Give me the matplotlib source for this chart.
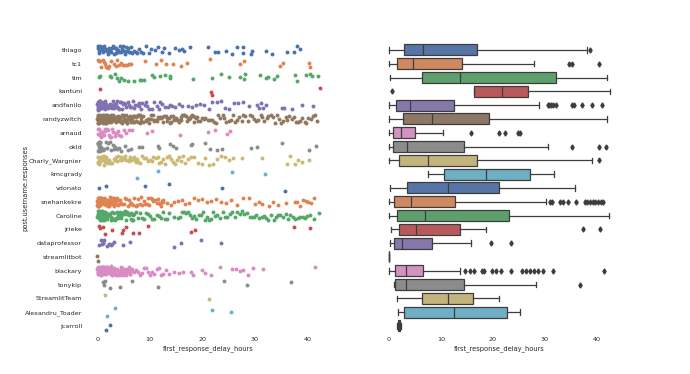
import numpy as np
import matplotlib
matplotlib.use("Agg")
import matplotlib.pyplot as plt
import matplotlib.colors as mcolors
import colorsys

users = ["thiago", "tc1", "tim", "kantuni", "andfanilo", "randyzwitch", "arnaud", "okld",
         "Charly_Wargnier", "kmcgrady", "vdonato", "snehankekre", "Caroline", "jrieke",
         "dataprofessor", "streamlitbot", "blackary", "tonykip", "StreamlitTeam",
         "Alexandru_Toader", "jcarroll"]

thiago = [0.1, 0.2, 0.3, 0.3, 0.5, 0.6, 0.8, 0.9, 1.0, 1.2, 1.3, 1.5, 1.6, 1.8, 2.0, 2.1, 2.3, 2.5, 2.6, 2.8,
          3.0, 3.1, 3.3, 3.5, 3.6, 3.8, 4.0, 4.2, 4.3, 4.5, 4.7, 4.9, 5.0, 5.2, 5.4, 5.6, 5.8, 6.0, 6.2, 6.4,
          6.7, 7.0, 7.3, 7.6, 8.0, 8.3, 8.7, 9.3, 9.8, 10.3, 11.0, 11.5, 12.3, 12.8, 13.6, 14.8, 15.5, 16.2, 16.6,
          17.7, 21.0, 22.4, 23.0, 24.6, 25.6, 26.6, 27.7, 27.8, 29.3, 29.4, 32.1, 33.3, 36.1, 37.5, 38.1, 38.7]
tc1 = [0.1, 0.3, 0.5, 0.8, 1.0, 1.2, 1.4, 1.7, 2.0, 2.3, 2.6, 3.2, 3.5, 3.8, 4.2, 4.6, 4.9, 5.2, 5.6, 6.0,
       6.4, 9.1, 11.2, 12.2, 13.1, 14.4, 15.9, 17.0, 21.4, 27.2, 28.0, 34.9, 35.3, 40.4, 40.6]
tim = [0.3, 0.5, 2.4, 2.7, 3.3, 3.7, 4.2, 4.6, 5.0, 5.9, 7.0, 8.2, 8.4, 8.9, 10.4, 10.9, 12.0, 12.9, 13.8,
       13.9, 18.2, 21.8, 23.5, 25.0, 27.2, 28.0, 28.2, 31.0, 32.1, 32.6, 33.6, 34.2, 37.6, 38.1, 39.7, 40.6,
       40.9, 42.1]
kantuni = [0.6, 21.7, 21.8, 42.4]
andfanilo = [0.03, 0.07, 0.1, 0.14, 0.16, 0.21, 0.24, 0.29, 0.31, 0.36, 0.4, 0.42, 0.47, 0.52, 0.55, 0.61,
             0.63, 0.68, 0.73, 0.77, 0.8, 0.86, 0.9, 0.95, 0.99, 1.03, 1.08, 1.13, 1.19, 1.24,
             1.35, 1.42, 1.5, 1.56, 1.63, 1.71, 1.78, 1.86, 1.95, 2.02, 2.1, 2.19, 2.27, 2.36, 2.44, 2.53,
             2.61, 2.72, 2.8, 2.91, 3.0, 3.12, 3.21, 3.33, 3.45, 3.56, 3.68, 3.79, 3.9, 4.02,
             4.2, 4.4, 4.5, 4.7, 4.9, 5.0, 5.2, 5.5, 5.8, 6.1, 6.3, 6.5, 6.8, 7.0, 7.2, 7.5, 7.9, 8.0, 8.3,
             8.6, 9.1, 9.3, 9.5, 9.9, 10.4, 10.8, 11.3, 11.7, 12.0, 12.4,
             12.9, 13.4, 13.8, 14.3, 14.9, 15.6, 16.2, 17.3, 18.1, 18.9, 19.6, 20.4, 21.2, 21.9, 22.8, 23.5,
             24.4, 25.1, 26.0, 26.9, 27.7, 28.9,
             30.5, 30.8, 31.2, 31.6, 32.1, 35.1, 35.5, 37.1, 39.0, 41.0]
randyzwitch = [0.02, 0.05, 0.07, 0.11, 0.13, 0.16, 0.2, 0.22, 0.25, 0.29, 0.33, 0.36, 0.38, 0.43, 0.47, 0.5,
               0.52, 0.57, 0.61, 0.64, 0.69, 0.72, 0.76, 0.81, 0.85, 0.88, 0.93, 0.98, 1.02, 1.07, 1.11, 1.16,
               1.2, 1.26, 1.31, 1.35, 1.41, 1.46, 1.52, 1.57, 1.63, 1.68, 1.74, 1.8, 1.86, 1.92, 1.98, 2.05,
               2.11, 2.18, 2.25, 2.33, 2.41, 2.52, 2.63,
               2.74, 2.82, 2.9, 2.97, 3.06, 3.15, 3.22, 3.31, 3.4, 3.48, 3.57, 3.66, 3.75, 3.85, 3.94, 4.03,
               4.13, 4.22, 4.33, 4.42, 4.53, 4.63, 4.74, 4.84, 4.95, 5.05, 5.16, 5.27, 5.38, 5.49, 5.6, 5.71,
               5.82, 5.94, 6.05, 6.16, 6.28, 6.39, 6.51, 6.62, 6.74, 6.86, 6.98, 7.09, 7.21, 7.33, 7.45, 7.57,
               7.69, 7.81, 7.93, 8.05, 8.15,
               8.3, 8.4, 8.7, 8.8, 9.2, 9.3, 9.6, 9.8, 9.9, 10.2, 10.3, 10.6, 10.8, 10.9, 11.2, 11.4, 11.5,
               11.8, 12.0, 12.1, 12.4, 12.6, 12.7, 13.0, 13.2, 13.3, 13.6, 13.8, 14.0, 14.1, 14.4, 14.6, 14.7,
               15.0, 15.2, 15.3, 15.6, 15.9, 16.0, 16.2, 16.5, 16.6, 16.9, 17.1, 17.2, 17.5, 17.7, 17.8, 18.1,
               18.3, 18.4, 18.7, 18.9, 19.0, 19.2,
               19.5, 19.9, 20.3, 20.6, 21.0, 21.5, 21.8, 22.2, 22.7, 23.0, 23.4, 23.9, 24.2, 24.6, 25.1, 25.4,
               25.8, 26.3, 26.6, 27.0, 27.5, 27.8, 28.2, 28.7, 29.0, 29.4, 29.9, 30.2, 30.6, 31.1, 31.4, 31.8,
               32.3, 32.6, 33.0, 33.5, 33.8, 34.2, 34.7, 35.0, 35.4, 35.9, 36.2, 36.6, 37.1, 37.4, 37.8, 38.3,
               38.6, 39.0, 39.5, 39.8, 40.2, 40.7, 41.1, 41.5, 41.9]
arnaud = [0.1, 0.2, 0.35, 0.4, 0.5, 0.65, 0.7, 0.85, 0.9, 1.05, 1.2, 1.4, 1.55, 1.8, 2.0, 2.25, 2.4, 2.6,
          2.85, 3.0, 3.3, 3.65, 3.9, 4.2, 4.6, 5.0, 5.4, 6.1, 6.7, 9.5, 10.4, 15.7, 21.1, 22.4, 24.8, 25.2]
okld = [0.05, 0.1, 0.15, 0.2, 0.25, 0.3, 0.4, 0.45, 0.5, 0.6, 0.65, 0.8, 1.0, 1.3, 1.6, 1.8, 2.1, 2.4, 2.7,
        3.0, 3.2, 3.4, 3.7, 4.1, 4.6, 5.2, 5.9, 6.4, 8.0, 8.6, 11.5, 11.8, 13.8, 14.4, 15.0, 17.8, 18.0,
        20.5, 21.4, 22.9, 23.8, 29.3, 30.5, 35.1, 40.4, 41.7]
charly = [0.05, 0.1, 0.15, 0.2, 0.3, 0.35, 0.4, 0.5, 0.55, 0.6, 0.7, 0.8, 0.85, 0.9, 1.0, 1.1, 1.2, 1.25,
          1.3, 1.4, 1.5, 1.6, 1.7, 1.8, 1.9,
          2.1, 2.3, 2.5, 2.7, 2.9, 3.1, 3.3, 3.5, 3.8, 4.0, 4.3, 4.5, 4.8, 5.0, 5.3, 5.5, 5.8, 6.0, 6.3,
          6.5, 6.8, 7.0, 7.2, 7.4, 7.5,
          7.8, 8.2, 8.5, 8.9, 9.3, 9.6, 10.0, 10.4, 10.7, 11.1, 11.5, 11.8, 12.2, 12.6, 12.9, 13.3, 13.7,
          14.0, 14.4, 14.8, 15.1, 15.5, 15.9, 16.3, 16.7,
          17.2, 17.8, 18.5, 19.1, 19.9, 20.6, 21.3, 22.0, 22.8, 23.5, 24.3, 25.1, 25.8, 27.5, 31.3, 36.1,
          36.8, 37.6, 38.2, 39.0, 40.4]
kmcgrady = [7.6, 11.6, 25.7, 31.9]
vdonato = [0.3, 1.6, 9.1, 13.6, 23.8, 35.8]
snehankekre = [0.02, 0.04, 0.07, 0.09, 0.12, 0.14, 0.17, 0.19, 0.22, 0.25, 0.27, 0.3, 0.33, 0.35, 0.38,
               0.41, 0.44, 0.47, 0.5, 0.53, 0.56, 0.59, 0.62, 0.65, 0.68, 0.71, 0.74, 0.77, 0.8, 0.83, 0.86,
               0.89, 0.92, 0.95, 0.98,
               1.04, 1.12, 1.19, 1.27, 1.35, 1.43, 1.52, 1.6, 1.69, 1.78, 1.86, 1.95, 2.04, 2.13, 2.22, 2.31,
               2.4, 2.5, 2.59, 2.69, 2.78, 2.88, 2.97, 3.07, 3.16, 3.26, 3.35, 3.45, 3.55, 3.64, 3.74, 3.84,
               3.94, 4.04, 4.14,
               4.3, 4.5, 4.8, 5.0, 5.3, 5.5, 5.8, 6.0, 6.3, 6.5, 6.8, 7.0, 7.3, 7.6, 7.8, 8.1, 8.3, 8.6, 8.9,
               9.1, 9.4, 9.7, 9.9, 10.2, 10.5, 10.7, 11.0, 11.3, 11.5, 11.8, 12.0, 12.2, 12.4, 12.5, 12.6,
               13.2, 14.0, 14.6, 15.3, 16.1, 16.8, 17.5, 18.4, 19.2, 20.0, 20.9, 21.7, 22.6, 23.5, 24.6,
               25.5, 26.7, 27.8, 28.9, 30.1,
               30.9, 31.3, 32.8, 33.5, 34.4, 35.9, 37.6, 38.1, 38.7, 39.2, 39.7, 40.2, 40.7, 41.2]
caroline = [0.02, 0.06, 0.1, 0.13, 0.17, 0.21, 0.25, 0.29, 0.33, 0.37, 0.41, 0.45, 0.49, 0.53, 0.57, 0.61,
            0.65, 0.69, 0.73, 0.77, 0.81, 0.85, 0.89, 0.93, 0.97, 1.01, 1.05, 1.09, 1.13, 1.17, 1.21, 1.25,
            1.29, 1.33, 1.37, 1.41, 1.45, 1.49, 1.53, 1.58,
            1.65, 1.78, 1.9, 2.03, 2.15, 2.28, 2.41, 2.54, 2.67, 2.8, 2.93, 3.06, 3.2, 3.33, 3.47, 3.6, 3.74,
            3.88, 4.02, 4.16, 4.3, 4.44, 4.58, 4.72, 4.87, 5.01, 5.16, 5.3, 5.45, 5.6, 5.74, 5.89, 6.04,
            6.19, 6.34, 6.49, 6.64, 6.79, 6.9, 6.98,
            7.3, 7.7, 8.1, 8.5, 8.9, 9.3, 9.7, 10.1, 10.5, 10.9, 11.3, 11.7, 12.1, 12.5, 12.9, 13.3, 13.7,
            14.6, 15.3, 15.7, 16.1, 16.5, 16.9, 17.3, 17.7, 18.1, 18.5, 18.9, 19.3, 19.7, 20.1, 20.5, 20.9,
            21.3, 21.7, 22.1, 22.5, 22.9,
            23.4, 23.9, 24.3, 24.8, 25.3, 25.7, 26.2, 26.7, 27.1, 27.6, 28.0, 28.5, 29.0, 29.4, 29.9, 30.3,
            30.8, 31.3, 31.7, 32.2, 32.6, 33.1, 33.6, 34.0, 34.5, 34.9, 35.4, 35.9, 36.3, 36.8, 37.2, 37.7,
            38.2, 38.6, 39.1, 39.5, 40.0, 40.5, 41.2, 42.2]
jrieke = [0.3, 0.45, 1.0, 1.5, 2.8, 4.8, 4.9, 5.4, 6.9, 8.0, 9.6, 17.9, 18.7, 37.4, 40.6]
dataprofessor = [0.3, 0.7, 0.9, 1.0, 1.1, 1.3, 1.9, 2.2, 2.6, 2.9, 3.2, 4.9, 6.3, 14.6, 16.0, 19.7, 23.5]
streamlitbot = [0.02, 0.05]
blackary = [0.02, 0.05, 0.08, 0.1, 0.13, 0.16, 0.19, 0.22, 0.25, 0.28, 0.31, 0.34, 0.37, 0.4, 0.43, 0.46,
            0.49, 0.52, 0.55, 0.58, 0.61, 0.64, 0.67, 0.7, 0.73, 0.76, 0.79, 0.83, 0.87, 0.91, 0.95, 1.0,
            1.05, 1.1, 1.16,
            1.22, 1.28, 1.34, 1.4, 1.46, 1.52, 1.58, 1.64, 1.7, 1.76, 1.82, 1.88, 1.94, 2.0, 2.06, 2.12,
            2.18, 2.24, 2.3, 2.36, 2.42, 2.48, 2.54, 2.6, 2.66, 2.72, 2.78, 2.84, 2.9, 2.96, 3.02, 3.08,
            3.14, 3.2, 3.26,
            3.35, 3.44, 3.53, 3.62, 3.71, 3.8, 3.89, 3.98, 4.07, 4.16, 4.25, 4.34, 4.43, 4.52, 4.61, 4.7,
            4.79, 4.88, 4.97, 5.06, 5.15, 5.24, 5.33, 5.42, 5.51, 5.6, 5.69, 5.78, 5.87, 5.96, 6.05, 6.14,
            6.23, 6.32, 6.45,
            6.7, 7.0, 7.4, 7.8, 8.1, 8.5, 8.9, 9.3, 9.6, 10.0, 10.4, 10.8, 11.3, 11.7, 12.2, 12.6, 13.1, 13.6,
            14.6, 15.5, 16.4, 17.8, 18.3, 19.9, 20.5, 21.6, 23.4, 25.6, 26.4, 27.2, 27.8, 28.7, 29.6,
            31.5, 41.4]
tonykip = [1.15, 1.3, 1.5, 2.4, 4.3, 6.6, 11.5, 24.1, 28.5, 36.9]
streamlitteam = [1.5, 21.3]
alexandru = [1.9, 3.4, 21.9, 25.4]
jcarroll = [1.7, 2.4]

strip_values = [thiago, tc1, tim, kantuni, andfanilo, randyzwitch, arnaud, okld, charly, kmcgrady,
                vdonato, snehankekre, caroline, jrieke, dataprofessor, streamlitbot, blackary, tonykip,
                streamlitteam, alexandru, jcarroll]

# Box statistics
box_whislo = [0.06, 0.06, 0.3, 16.4, 0.06, 0.06, 0.06, 0.06, 0.06, 7.6, 0.3, 0.06, 0.0, 0.4, 0.3, 0.03,
              0.0, 1.0, 1.5, 1.8, 1.6]
box_q1 = [2.9, 1.6, 6.4, 16.4, 1.3, 2.7, 0.8, 0.7, 2.0, 10.5, 3.5, 1.0, 1.6, 2.0, 1.0, 0.03, 1.2, 1.1,
          6.4, 2.9, 1.8]
box_med = [6.5, 4.7, 13.7, 21.7, 4.1, 8.2, 2.4, 3.5, 7.6, 18.6, 11.4, 4.2, 7.0, 5.3, 2.6, 0.04, 3.3, 3.2,
           11.4, 12.5, 2.0]
box_q3 = [16.9, 14.1, 32.1, 26.8, 12.5, 19.2, 5.0, 14.4, 16.9, 27.2, 21.1, 12.7, 23.1, 13.6, 8.2, 0.05,
          6.5, 14.5, 16.2, 22.7, 2.2]
box_whishi = [38.1, 27.9, 41.9, 42.4, 28.9, 42.0, 10.4, 30.5, 39.0, 31.7, 35.7, 30.1, 42.2, 18.6, 15.8,
              0.05, 13.6, 28.3, 21.2, 25.2, 2.4]
box_fliers = [[38.7], [34.7, 35.1, 40.3], [], [0.6],
              [30.5, 30.8, 31.2, 31.6, 32.1, 35.1, 35.5, 37.1, 39.0, 41.0], [],
              [15.7, 21.1, 22.4, 24.8, 25.2], [35.1, 40.4, 41.7], [40.4], [], [],
              [30.9, 31.3, 32.8, 33.5, 34.4, 35.9, 37.6, 38.1, 38.7, 39.2, 39.7, 40.2, 40.7, 41.2],
              [], [37.3, 40.5], [19.7, 23.5], [],
              [14.6, 15.5, 16.4, 17.8, 18.3, 19.9, 20.5, 21.6, 23.4, 25.6, 26.4, 27.2, 27.8, 28.7, 29.6,
               31.5, 41.4],
              [36.7], [], [], []]

palette = ["#4C72B0", "#DD8452", "#55A868", "#C44E52", "#8172B3",
           "#937860", "#DA8BC3", "#8C8C8C", "#CCB974", "#64B5CD"]


def desaturate(c, prop):
    r, g, b = mcolors.to_rgb(c)
    h, l, s = colorsys.rgb_to_hls(r, g, b)
    return colorsys.hls_to_rgb(h, l, s * prop)


plt.rcParams['font.family'] = ['DejaVu Sans']
fig, (ax1, ax2) = plt.subplots(1, 2, figsize=(6.9, 3.74), dpi=100, sharey=True)
fig.subplots_adjust(left=0.125, right=0.9, bottom=0.11, top=0.885, wspace=0.2)

rng = np.random.default_rng(3)
for i, vals in enumerate(strip_values):
    vals = np.asarray(vals)
    jit = rng.uniform(-0.32, 0.32, size=len(vals))
    ax1.scatter(vals, i + jit, s=8, color=palette[i % 10], linewidths=0, zorder=3)

stats = []
for i in range(len(users)):
    stats.append(dict(whislo=box_whislo[i], q1=box_q1[i], med=box_med[i], q3=box_q3[i],
                      whishi=box_whishi[i], fliers=box_fliers[i]))
gray = "#3d3d3d"
bp = ax2.bxp(stats, positions=np.arange(len(users)), vert=False, widths=0.8, patch_artist=True,
             manage_ticks=False,
             boxprops=dict(edgecolor=gray, linewidth=0.9),
             medianprops=dict(color=gray, linewidth=0.9),
             whiskerprops=dict(color=gray, linewidth=0.9),
             capprops=dict(color=gray, linewidth=0.9),
             flierprops=dict(marker="d", markersize=2.6, markerfacecolor=gray,
                             markeredgecolor=gray, linestyle="none"))
for i, patch in enumerate(bp["boxes"]):
    patch.set_facecolor(desaturate(palette[i % 10], 0.8))

ax1.set_ylim(len(users) - 0.5, -0.5)
ax1.set_yticks(np.arange(len(users)))
ax1.set_yticklabels(users)
ax1.set_xlim(-2.1, 44.2)
ax2.set_xlim(-2.1, 44.6)
for ax in (ax1, ax2):
    ax.set_xticks([0, 10, 20, 30, 40])
    ax.tick_params(axis="both", length=0, labelsize=4.6, pad=3, colors="#262626")
    for sp in ax.spines.values():
        sp.set_visible(False)
    ax.set_xlabel("first_response_delay_hours", fontsize=4.8, labelpad=2, color="#262626")
ax2.tick_params(axis="y", labelleft=False)
ax1.set_ylabel("post.username.responses", fontsize=4.8, labelpad=-3, color="#262626")

fig.savefig("out.png", dpi=100, facecolor="white")
